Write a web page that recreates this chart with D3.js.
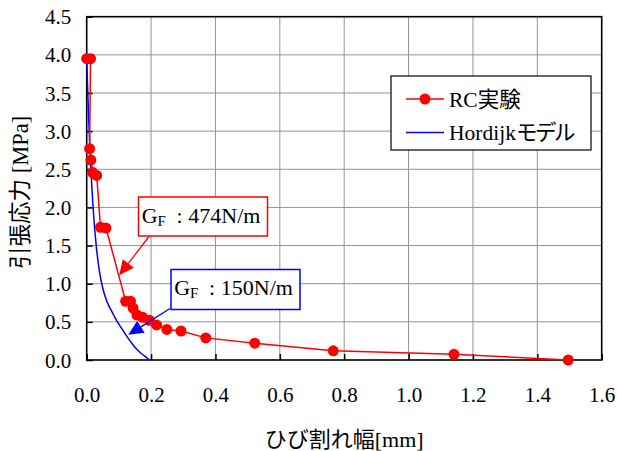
<!DOCTYPE html>
<html>
<head>
<meta charset="utf-8">
<script src="https://cdn.jsdelivr.net/npm/d3@7"></script>
<style>
  html, body { margin: 0; padding: 0; background: #fff; }
  svg { display: block; }
  text { font-family: "Liberation Serif", "Noto Sans CJK JP", serif; fill: #000; }
</style>
</head>
<body>
<svg id="chart" width="617" height="451"></svg>
<script>
// RC test: crack width [mm] vs tensile stress [MPa]
const rcWidth  = [0, 0.012, 0.009, 0.013, 0.018, 0.031, 0.043, 0.060, 0.121, 0.136, 0.144, 0.156, 0.174, 0.195, 0.217, 0.249, 0.293, 0.370, 0.522, 0.766, 1.141, 1.496];
const rcStress = [3.95, 3.95, 2.77, 2.62, 2.46, 2.42, 1.74, 1.73, 0.77, 0.77, 0.68, 0.59, 0.56, 0.52, 0.46, 0.40, 0.38, 0.29, 0.22, 0.12, 0.075, 0.0];

// Hordijk softening model curve
const hoWidth  = [0, 0.002, 0.004, 0.006, 0.008, 0.010, 0.015, 0.020, 0.030, 0.040, 0.050, 0.060, 0.070, 0.080, 0.090, 0.100, 0.120, 0.140, 0.160, 0.180, 0.195];
const hoStress = [3.95, 3.68, 3.43, 3.19, 2.97, 2.77, 2.34, 1.99, 1.48, 1.15, 0.94, 0.80, 0.70, 0.62, 0.54, 0.47, 0.34, 0.22, 0.12, 0.05, 0.0];

const xTicks = [0, 0.2, 0.4, 0.6, 0.8, 1.0, 1.2, 1.4, 1.6];
const yTicks = [0, 0.5, 1.0, 1.5, 2.0, 2.5, 3.0, 3.5, 4.0, 4.5];

const seriesNames = [["RC", "実験"], ["Hordijk", "モデル"]];
const xTitle = "ひび割れ幅[mm]";
const yTitle = "引張応力 [MPa]";

// Annotated fracture energies and the points their arrows point to
const gfValues = ["474N/m", "150N/m"];
const arrowTipX = [0.101, 0.129];
const arrowTipY = [1.11, 0.33];

const FONT = "'Liberation Serif', 'Times New Roman', 'Noto Sans CJK JP', serif";
const svg = d3.select("#chart");
const plotL = 86.7, plotR = 601.7, plotT = 16.7, plotB = 360;

const x = d3.scaleLinear().domain([0, 1.6]).range([plotL, plotR]);
const y = d3.scaleLinear().domain([0, 4.5]).range([plotB, plotT]);

// grid
const grid = svg.append("g");
grid.selectAll("line.gx").data(xTicks.slice(1, -1)).join("line")
  .attr("x1", d => x(d)).attr("x2", d => x(d))
  .attr("y1", plotT).attr("y2", plotB)
  .attr("stroke", "#949494").attr("stroke-width", 1);
grid.selectAll("line.gy").data(yTicks.slice(1, -1)).join("line")
  .attr("x1", plotL).attr("x2", plotR)
  .attr("y1", d => y(d)).attr("y2", d => y(d))
  .attr("stroke", "#949494").attr("stroke-width", 1);

// axes with inward ticks
const xAxis = d3.axisBottom(x).tickValues(xTicks).tickFormat(d3.format(".1f"))
  .tickSizeInner(-6).tickSizeOuter(0).tickPadding(0);
const gx = svg.append("g").attr("transform", `translate(0,${plotB})`).call(xAxis)
  .attr("font-family", FONT);
gx.select(".domain").remove();
gx.selectAll(".tick line").attr("stroke", "#000").attr("stroke-width", 1.5);
gx.selectAll(".tick text").attr("font-size", 21).attr("dy", null).attr("y", 42)
  .attr("font-family", FONT);

const yAxis = d3.axisLeft(y).tickValues(yTicks).tickFormat(d3.format(".1f"))
  .tickSizeInner(-6).tickSizeOuter(0).tickPadding(0);
const gy = svg.append("g").attr("transform", `translate(${plotL},0)`).call(yAxis)
  .attr("font-family", FONT);
gy.select(".domain").remove();
gy.selectAll(".tick line").attr("stroke", "#000").attr("stroke-width", 1.5);
gy.selectAll(".tick text").attr("font-size", 21).attr("x", -15.5).attr("dy", "0.34em")
  .attr("font-family", FONT);

// frame
svg.append("rect").attr("x", plotL).attr("y", plotT)
  .attr("width", plotR - plotL).attr("height", plotB - plotT)
  .attr("fill", "none").attr("stroke", "#000").attr("stroke-width", 1.6);

// Hordijk curve
const hoData = hoWidth.map((w, i) => [w, hoStress[i]]);
svg.append("path").datum(hoData)
  .attr("fill", "none").attr("stroke", "#0000ff").attr("stroke-width", 1.5)
  .attr("d", d3.line().x(d => x(d[0])).y(d => y(d[1])).curve(d3.curveMonotoneX));

// RC test series
const rcData = rcWidth.map((w, i) => [w, rcStress[i]]);
svg.append("path").datum(rcData)
  .attr("fill", "none").attr("stroke", "#ff0000").attr("stroke-width", 1.5)
  .attr("d", d3.line().x(d => x(d[0])).y(d => y(d[1])));
svg.append("g").selectAll("circle").data(rcData).join("circle")
  .attr("cx", d => x(d[0])).attr("cy", d => y(d[1])).attr("r", 5.5)
  .attr("fill", "#ff0000");

// legend
const lg = svg.append("g");
lg.append("rect").attr("x", 391).attr("y", 76).attr("width", 200).attr("height", 74)
  .attr("fill", "#fff").attr("stroke", "#000").attr("stroke-width", 1.2);
const legendColors = ["#ff0000", "#0000ff"];
seriesNames.forEach((name, i) => {
  const ly = 99 + i * 33.5;
  lg.append("line").attr("x1", 406).attr("x2", 444).attr("y1", ly).attr("y2", ly)
    .attr("stroke", legendColors[i]).attr("stroke-width", 1.5);
  if (i === 0) lg.append("circle").attr("cx", 425).attr("cy", ly).attr("r", 5.5).attr("fill", "#ff0000");
  const t = lg.append("text").attr("x", 449).attr("y", ly + 7.5).attr("font-size", 21.5)
    .attr("font-family", FONT);
  t.append("tspan").text(name[0]);
  t.append("tspan").attr("letter-spacing", i === 1 ? -2.5 : 0).text(name[1]);
});

// fracture energy annotations
const boxes = [
  { x: 138.5, y: 197, w: 129, h: 39, color: "#ff0000", from: [149, 236.5] },
  { x: 171, y: 269.5, w: 129, h: 40, color: "#0000ff", from: [170, 308.5] }
];
boxes.forEach((b, i) => {
  const g = svg.append("g");
  const tx = x(arrowTipX[i]), ty = y(arrowTipY[i]);
  const [fx, fy] = b.from;
  const ang = Math.atan2(ty - fy, tx - fx);
  const hl = 15, hw = 7;
  const bx = tx - hl * Math.cos(ang), by = ty - hl * Math.sin(ang);
  g.append("line").attr("x1", fx).attr("y1", fy).attr("x2", bx).attr("y2", by)
    .attr("stroke", b.color).attr("stroke-width", 1.3);
  g.append("path")
    .attr("d", `M${tx},${ty}L${bx + hw * Math.sin(ang)},${by - hw * Math.cos(ang)}L${bx - hw * Math.sin(ang)},${by + hw * Math.cos(ang)}Z`)
    .attr("fill", b.color);
  g.append("rect").attr("x", b.x).attr("y", b.y).attr("width", b.w).attr("height", b.h)
    .attr("fill", "#fff").attr("stroke", b.color).attr("stroke-width", 1.5);
  const base = b.y + 25.5;
  const t = g.append("text").attr("y", base).attr("font-size", 22).attr("font-family", FONT);
  t.append("tspan").attr("x", b.x + 3.2).text("G");
  t.append("tspan").attr("x", b.x + 19).attr("y", base + 3).attr("font-size", 15).text("F");
  t.append("tspan").attr("x", b.x + 38).attr("y", base).text(":");
  t.append("tspan").attr("x", b.x + 49.8).text(gfValues[i]);
});

// axis titles
svg.append("text").attr("x", (plotL + plotR) / 2).attr("y", 447)
  .attr("text-anchor", "middle").attr("font-size", 22).attr("font-family", FONT).text(xTitle);
svg.append("text").attr("transform", `translate(28,${(plotT + plotB) / 2 + 4}) rotate(-90)`)
  .attr("text-anchor", "middle").attr("font-size", 22.5).attr("font-family", FONT).text(yTitle);
</script>
</body>
</html>
